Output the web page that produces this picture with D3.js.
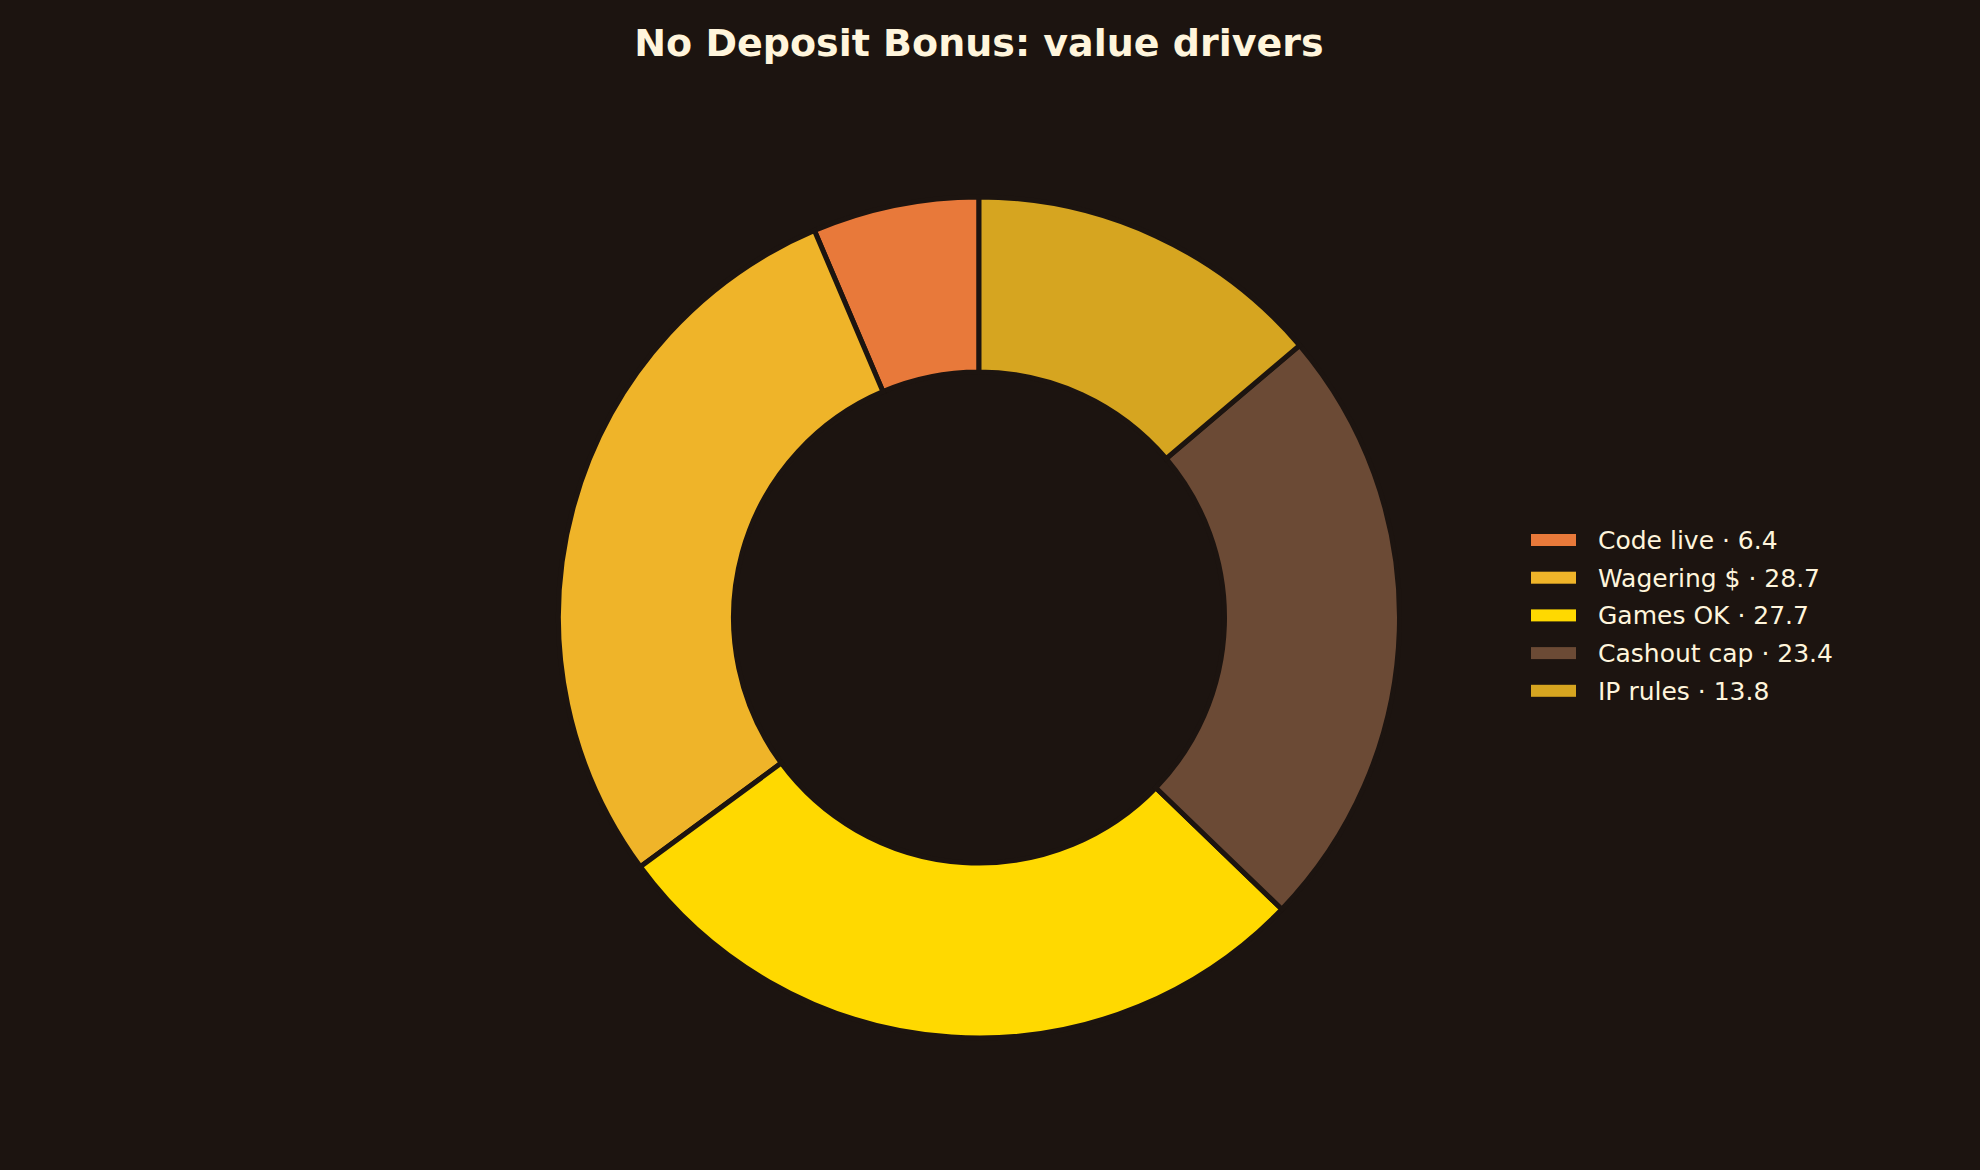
<!DOCTYPE html>
<html>
<head>
<meta charset="utf-8">
<script src="https://cdn.jsdelivr.net/npm/d3@7"></script>
<style>
  html, body { margin: 0; padding: 0; background: #1c1410; }
  svg { display: block; }
</style>
</head>
<body>
<svg id="chart"></svg>
<script>
/*** DATA ***/
const labels = ["Code live", "Wagering $", "Games OK", "Cashout cap", "IP rules"];
const values = [6.4, 28.7, 27.7, 23.4, 13.8];
const colors = ["#e8793a", "#efb429", "#ffd900", "#6b4a35", "#d6a520"];

/*** CONSTANTS ***/
const WIDTH = 1980;
const HEIGHT = 1170;
const BG = "#1c1410";
const TEXT = "#fff5dc";

const center = { x: 979, y: 617.5 };
const outerR = 420.5;
const innerR = 245.5;

const legendPos = { x: 1531, y: 540, step: 37.7, sw: 45, sh: 12 };

const svg = d3.select("#chart")
  .attr("width", WIDTH)
  .attr("height", HEIGHT)
  .style("background", BG);

// title
svg.append("text")
  .attr("x", WIDTH / 2 - 11)
  .attr("y", 56)
  .attr("text-anchor", "middle")
  .attr("fill", TEXT)
  .style("font-family", "DejaVu Sans")
  .style("font-weight", "bold")
  .style("font-size", "38px")
  .text("No Deposit Bonus: value drivers");

// donut, counter-clockwise from 12 o'clock like matplotlib
const data = labels.map((l, i) => ({ label: l, value: values[i], color: colors[i] }));

const pie = d3.pie()
  .sort(null)
  .value(d => d.value)
  .startAngle(0)
  .endAngle(-2 * Math.PI);

const arc = d3.arc()
  .innerRadius(innerR)
  .outerRadius(outerR);

svg.append("g")
  .attr("transform", `translate(${center.x},${center.y})`)
  .selectAll("path")
  .data(pie(data))
  .join("path")
  .attr("d", arc)
  .attr("fill", d => d.data.color)
  .attr("stroke", BG)
  .attr("stroke-width", 5)
  .attr("stroke-linejoin", "miter");

// legend
const leg = svg.append("g")
  .selectAll("g")
  .data(data)
  .join("g")
  .attr("transform", (d, i) => `translate(${legendPos.x},${legendPos.y + i * legendPos.step})`);

leg.append("rect")
  .attr("x", 0)
  .attr("y", -legendPos.sh / 2)
  .attr("width", legendPos.sw)
  .attr("height", legendPos.sh)
  .attr("fill", d => d.color);

leg.append("text")
  .attr("x", 67)
  .attr("y", 0)
  .attr("dy", "0.36em")
  .attr("fill", TEXT)
  .style("font-family", "DejaVu Sans")
  .style("font-size", "25px")
  .text(d => `${d.label} · ${d.value.toFixed(1)}`);
</script>
</body>
</html>
